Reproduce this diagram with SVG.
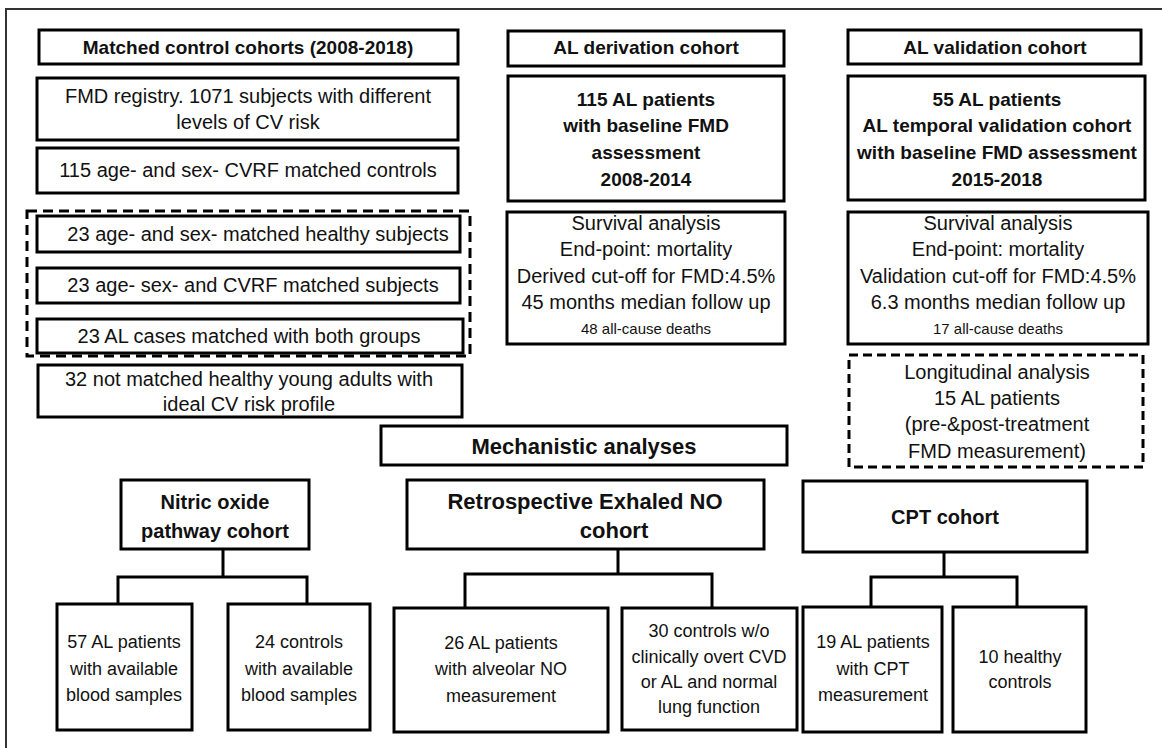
<svg xmlns="http://www.w3.org/2000/svg" width="1162" height="748" viewBox="0 0 1162 748">
<style>
.box{fill:#fff;stroke:#000;stroke-width:3}
.dash{fill:none;stroke:#000;stroke-width:3;stroke-dasharray:10 6}
.frame{fill:none;stroke:#333;stroke-width:2}
.t{font-family:"Liberation Sans",Arial,sans-serif;font-size:20px;text-anchor:middle;fill:#111}
.b{font-weight:bold;font-size:19px}
.s{font-size:15px}
.l{font-size:18px}
.bb{font-size:22px}
.con{fill:none;stroke:#000;stroke-width:3}
</style>
<rect x="0" y="0" width="1162" height="748" fill="#fff"/>
<rect class="frame" x="6" y="9" width="1200" height="800"/>

<g id="matched-header"><rect class="box" x="39" y="30" width="419" height="34"/><text class="t b" x="248" y="54">Matched control cohorts (2008-2018)</text></g>
<g id="fmd-registry"><rect class="box" x="37" y="78" width="421" height="62"/><text class="t" x="248" y="103">FMD registry. 1071 subjects with different</text><text class="t" x="248" y="129">levels of CV risk</text></g>
<g id="cvrf-controls"><rect class="box" x="37" y="148" width="421" height="45"/><text class="t" x="248" y="177">115 age- and sex- CVRF matched controls</text></g>
<g id="healthy-subjects"><rect class="box" x="37" y="216" width="423" height="36"/><text class="t" x="258" y="241">23 age- and sex- matched healthy subjects</text></g>
<g id="cvrf-subjects"><rect class="box" x="37" y="268" width="423" height="35"/><text class="t" x="253" y="292">23 age- sex- and CVRF matched subjects</text></g>
<g id="al-cases"><rect class="box" x="37" y="319" width="426" height="34"/><text class="t" x="249" y="343">23 AL cases matched with both groups</text></g>
<g id="matched-group"><rect class="dash" x="27" y="211" width="443" height="145"/></g>
<g id="young-adults"><rect class="box" x="38" y="365" width="424" height="52"/><text class="t" x="249" y="386">32 not matched healthy young adults with</text><text class="t" x="249" y="411">ideal CV risk profile</text></g>

<g id="derivation-header"><rect class="box" x="508" y="31" width="276" height="35"/><text class="t b" x="646" y="54">AL derivation cohort</text></g>
<g id="derivation-patients"><rect class="box" x="508" y="76" width="276" height="125"/><text class="t b" x="646" y="106">115 AL patients</text><text class="t b" x="646" y="132">with baseline FMD</text><text class="t b" x="646" y="159">assessment</text><text class="t b" x="646" y="186">2008-2014</text></g>
<g id="derivation-survival"><rect class="box" x="507" y="212" width="278" height="132"/><text class="t" x="646" y="230">Survival analysis</text><text class="t" x="646" y="256">End-point: mortality</text><text class="t" x="646" y="283">Derived cut-off for FMD:4.5%</text><text class="t" x="646" y="309">45 months median follow up</text><text class="t s" x="646" y="334">48 all-cause deaths</text></g>

<g id="validation-header"><rect class="box" x="848" y="30" width="293" height="34"/><text class="t b" x="995" y="54">AL validation cohort</text></g>
<g id="validation-patients"><rect class="box" x="848" y="76" width="297" height="124"/><text class="t b" x="997" y="106">55 AL patients</text><text class="t b" x="997" y="132">AL temporal validation  cohort</text><text class="t b" x="997" y="159">with baseline FMD assessment</text><text class="t b" x="997" y="186">2015-2018</text></g>
<g id="validation-survival"><rect class="box" x="848" y="212" width="300" height="132"/><text class="t" x="998" y="230">Survival analysis</text><text class="t" x="998" y="256">End-point: mortality</text><text class="t" x="998" y="283">Validation cut-off for FMD:4.5%</text><text class="t" x="998" y="309">6.3 months median follow up</text><text class="t s" x="998" y="334">17 all-cause deaths</text></g>
<g id="longitudinal"><rect class="dash" x="849" y="355" width="294" height="112" style="stroke-dasharray:9 5"/><text class="t" x="997" y="379">Longitudinal analysis</text><text class="t" x="997" y="405">15 AL patients</text><text class="t" x="997" y="431">(pre-&amp;post-treatment</text><text class="t" x="997" y="458">FMD measurement)</text></g>

<g id="mechanistic"><rect class="box" x="381" y="426" width="406" height="39"/><text class="t b bb" x="584" y="454">Mechanistic analyses</text></g>
<g id="nitric-oxide"><rect class="box" x="121" y="480" width="188" height="69"/><text class="t b" x="215" y="509" style="font-size:20px">Nitric oxide</text><text class="t b" x="215" y="538" style="font-size:20px">pathway cohort</text></g>
<g id="exhaled-no"><rect class="box" x="407" y="480" width="357" height="69"/><text class="t b bb" x="585" y="509">Retrospective Exhaled NO</text><text class="t b bb" x="614" y="538">cohort</text></g>
<g id="cpt"><rect class="box" x="803" y="481" width="284" height="71"/><text class="t b" x="945" y="524" style="font-size:20px">CPT cohort</text></g>

<g id="connectors">
<path class="con" d="M223 549 V577 M118 604 V577 H307 V604"/>
<path class="con" d="M618 549 V574 M465 608 V574 H712 V608"/>
<path class="con" d="M944 552 V577 M871 607 V577 H1017 V607"/>
</g>

<g id="al-blood"><rect class="box" x="57" y="604" width="135" height="126"/><text class="t l" x="124" y="648">57 AL patients</text><text class="t l" x="124" y="675">with available</text><text class="t l" x="124" y="701">blood samples</text></g>
<g id="controls-blood"><rect class="box" x="228" y="604" width="142" height="126"/><text class="t l" x="299" y="648">24 controls</text><text class="t l" x="299" y="675">with available</text><text class="t l" x="299" y="701">blood samples</text></g>
<g id="al-alveolar"><rect class="box" x="394" y="608" width="214" height="124"/><text class="t l" x="501" y="649">26 AL patients</text><text class="t l" x="501" y="675">with alveolar NO</text><text class="t l" x="501" y="702">measurement</text></g>
<g id="controls-lung"><rect class="box" x="622" y="608" width="175" height="122"/><text class="t l" x="709" y="637">30 controls  w/o</text><text class="t l" x="709" y="663">clinically overt CVD</text><text class="t l" x="709" y="688">or AL and normal</text><text class="t l" x="709" y="713">lung  function</text></g>
<g id="al-cpt"><rect class="box" x="803" y="607" width="139" height="125"/><text class="t l" x="873" y="648">19 AL patients</text><text class="t l" x="873" y="675">with CPT</text><text class="t l" x="873" y="701">measurement</text></g>
<g id="healthy-controls"><rect class="box" x="953" y="607" width="133" height="125"/><text class="t l" x="1020" y="663">10 healthy</text><text class="t l" x="1020" y="688">controls</text></g>
</svg>
